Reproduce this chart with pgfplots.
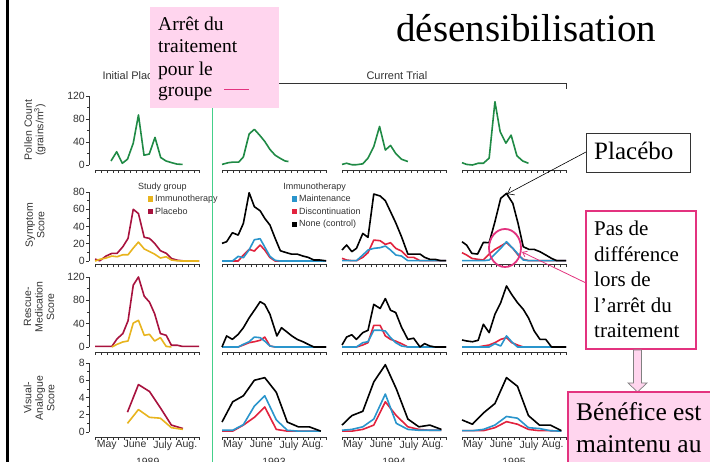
\documentclass[border=0pt]{standalone}
\usepackage{pgfplots}
\pgfplotsset{compat=1.18}
\usepackage{fontspec}
\setmainfont{Liberation Serif}
\setsansfont{Liberation Sans}
\usetikzlibrary{arrows.meta}
\definecolor{pollen}{HTML}{1F8A45}
\definecolor{plac}{HTML}{A8123E}
\definecolor{immu}{HTML}{E8B41E}
\definecolor{maint}{HTML}{2A95CC}
\definecolor{disc}{HTML}{E2233E}
\definecolor{pinkfill}{HTML}{FFD5EE}
\definecolor{magenta2}{HTML}{E3337F}
\definecolor{vgreen}{HTML}{44D08A}
\definecolor{figtext}{HTML}{333333}
\pgfplotsset{
  panel/.style={scale only axis, width=104pt, xmin=0, xmax=18, clip=false,
    axis x line*=bottom,
    xtick={0,...,18}, xticklabels={},
    tick align=outside, major tick length=3pt, minor tick length=2pt,
    tick style={figtext, line width=0.7pt},
    axis line style={figtext, line width=0.7pt},
    tick label style={font=\sffamily\fontsize{10.5}{11}\selectfont, text=figtext},
    /pgf/number format/assume math mode=true,
    every axis plot/.append style={line width=1.6pt, line join=round},
  },
  firstcol/.style={axis y line*=left, axis y line shift=6.7pt, yticklabel style={inner sep=1pt}},
  othercol/.style={axis y line=none, ytick=\empty, minor ytick=\empty},
  row1/.style={ymin=-8.7, ymax=120, height=74pt, ytick={0,40,80,120}, minor ytick={20,60,100}, y axis line style={shorten <=5pt}},
  row2/.style={ymin=-4, ymax=80, height=72.45pt, ytick={0,20,40,60,80}, minor ytick={10,30,50,70}, y axis line style={shorten <=3.5pt}},
  row3/.style={ymin=-8.6, ymax=120, height=75pt, ytick={0,40,80,120}, minor ytick={20,60,100}, y axis line style={shorten <=5pt}},
  row4/.style={ymin=-0.58, ymax=8, height=74pt, ytick={0,2,4,6,8}, minor ytick={1,3,5,7}, y axis line style={shorten <=5pt},
    extra x ticks={1.9,6.8,11.6,15.7}, extra x tick labels={May,June,July,Aug.},
    extra x tick style={major tick length=0pt, tick label style={font=\sffamily\fontsize{10.5}{11}\selectfont}}},
  leg/.style={legend style={draw=none, fill=none, anchor=north west,
      font=\sffamily\fontsize{9}{9}\selectfont, text=figtext, inner sep=0pt, row sep=0.6pt,
      /tikz/every even column/.append style={column sep=2pt}},
    legend cell align=left,
    legend image code/.code={\fill[##1, draw=none] (0pt,-2.6pt) rectangle (5.2pt,2.6pt);}},
}
\begin{document}
\begin{tikzpicture}[x=1pt,y=1pt]
\path[use as bounding box] (0,0) rectangle (710,462);
\clip (0,0) rectangle (710,462);
\fill[white] (0,0) rectangle (710,462);

% ---------- Row 1: pollen ----------
\begin{axis}[panel, firstcol, row1, at={(95.7pt,292pt)}, anchor=south west]
\addplot[color=pollen] coordinates {(2.65,7)(3.63,23)(4.6,3)(5.5,10)(6.5,38)(7.4,87)(8.36,17)(9.27,19)(10.26,48)(11.25,13)(12.16,7)(13.15,4)(14.1,1.5)(15.05,1)};
\end{axis}
\begin{axis}[panel, row1, othercol, at={(222pt,292pt)}, anchor=south west]
\addplot[color=pollen] coordinates {(0,1)(1.1,4)(1.9,5)(2.9,5)(3.7,14)(4.7,54)(5.6,62)(6.5,52)(7.4,41)(8.3,27)(9.2,17)(10,12)(10.9,7)(11.5,6)};
\end{axis}
\begin{axis}[panel, row1, othercol, at={(342pt,292pt)}, anchor=south west]
\addplot[color=pollen] coordinates {(0,1)(0.8,3)(1.7,0.5)(2.5,0.5)(3.6,2)(4.5,12)(5.5,32)(6.5,67)(7.5,26)(8.4,34)(9.3,20)(10.3,10)(11.4,6)};
\end{axis}
\begin{axis}[panel, row1, othercol, at={(462pt,292pt)}, anchor=south west]
\addplot[color=pollen] coordinates {(0,4)(0.8,1)(1.8,0)(2.8,3)(3.7,3)(4.7,12)(5.7,110)(6.6,58)(7.6,38)(8.5,52)(9.5,16)(10.5,7)(11.5,3)};
\end{axis}

% ---------- Row 2: symptom score ----------
\begin{axis}[panel, firstcol, row2, leg, legend style={at={(0.5,0.99)}}, at={(95.7pt,197.5pt)}, anchor=south west]
\addlegendimage{color=immu}\addlegendentry{Immunotherapy}
\addlegendimage{color=plac}\addlegendentry{Placebo}
\addplot[color=plac, forget plot] coordinates {(-0.1,2.3)(0.7,0.3)(1.8,5.8)(2.8,8.9)(3.7,8.9)(4.7,16.6)(5.6,26.3)(6.5,60)(7.4,55)(8.4,27.5)(9.3,26.3)(10.2,20.5)(11.2,12)(12.2,9)(13.1,3)(14.1,1)(15,0.3)(16,0)(17,0)(17.9,0)};
\addplot[color=immu, forget plot] coordinates {(-0.1,0)(0.7,2)(1.8,3.5)(2.8,5.8)(3.7,5)(4.7,7.3)(5.6,7.3)(6.5,15)(7.4,22)(8.4,14)(9.3,11)(10.2,8)(11.2,3.5)(12.2,5)(13.1,1.2)(14.1,0.3)(15,0)(16,0)(17,0)(17.9,0)};
\node[anchor=west, font=\sffamily\fontsize{9}{9}\selectfont, text=figtext, inner sep=0pt] at (rel axis cs:0.407,1.07) {Study group};
\end{axis}
\begin{axis}[panel, row2, othercol, leg, legend style={at={(0.67,0.99)}}, at={(222pt,197.5pt)}, anchor=south west]
\addlegendimage{color=maint}\addlegendentry{Maintenance}
\addlegendimage{color=disc}\addlegendentry{Discontinuation}
\addlegendimage{color=black}\addlegendentry{None (control)}
\addplot[color=disc, forget plot] coordinates {(0,0)(0.8,0)(1.8,0)(2.8,0)(3.7,7)(4.7,13.5)(5.6,11.6)(6.6,18.5)(7.4,12.7)(8.3,4)(9.2,0)(10.1,0)(11.2,0)(12,0)(13,0)(14,0)(14.9,0)(15.9,0)(16.9,0)(18,0)};
\addplot[color=maint, forget plot] coordinates {(0,0)(0.8,0)(1.8,0)(2.8,5.4)(3.7,3.9)(4.7,13.1)(5.6,24.7)(6.6,25.9)(7.4,16.2)(8.3,5.4)(9.2,0.8)(10.1,0)(11.2,0)(12,0)(13,0)(14,0)(14.9,0)(15.9,0)(16.9,0)(18,0)};
\addplot[color=black, forget plot] coordinates {(0,20.5)(0.8,22.4)(1.8,32.8)(2.8,30.1)(3.7,43.7)(4.7,79.2)(5.6,63)(6.6,58.3)(7.4,49.5)(8.3,41.7)(9.2,26.3)(10.1,11.9)(11.2,9.6)(12,8.1)(13,8.1)(14,5.8)(14.9,4.3)(15.9,1.2)(16.9,1.2)(18,0.3)};
\node[anchor=west, font=\sffamily\fontsize{9}{9}\selectfont, text=figtext, inner sep=0pt] at (rel axis cs:0.587,1.07) {Immunotherapy};
\end{axis}
\begin{axis}[panel, row2, othercol, at={(342pt,197.5pt)}, anchor=south west]
\addplot[color=disc] coordinates {(0,3.1)(0.8,1.2)(1.7,0.4)(2.5,0.4)(3.6,4.3)(4.5,9.7)(5.5,24.3)(6.6,23.6)(7.5,19.3)(8.4,21.3)(9.3,14.7)(10.3,11.6)(11.4,4.3)(12.4,4.3)(13.5,0.4)(14.3,0.4)(15.2,0.4)(16.1,0.4)(17.1,0.4)(18,0.4)};
\addplot[color=maint] coordinates {(0,0.4)(0.8,0.4)(1.7,0.4)(2.5,0.4)(3.6,7)(4.5,12.8)(5.5,14.7)(6.6,15.5)(7.5,17.4)(8.4,12.8)(9.3,7)(10.3,5.8)(11.4,0.4)(12.4,0.4)(13.5,0.4)(14.3,0.4)(15.2,0.4)(16.1,0.4)(17.1,0.4)(18,0.4)};
\addplot[color=black] coordinates {(0,12.8)(0.8,18.6)(1.7,10.9)(2.5,14.7)(3.6,32)(4.5,27.5)(5.5,77.7)(6.6,75.4)(7.5,70)(8.4,57.2)(9.3,44.4)(10.3,28.2)(11.4,8.1)(12.4,8.1)(13.5,8.1)(14.3,4.3)(15.2,2)(16.1,2)(17.1,0.4)(18,0.4)};
\end{axis}
\begin{axis}[panel, row2, othercol, at={(462pt,197.5pt)}, anchor=south west]
\addplot[color=disc] coordinates {(0,9.7)(0.8,7)(1.7,3.1)(2.7,2)(3.7,1.2)(4.7,8.1)(5.7,13.5)(6.7,17.4)(7.7,21.3)(8.8,14.7)(9.7,7)(10.6,2)(11.6,0.4)(12.5,0.4)(13.5,0.4)(14.5,0.4)(15.5,0.4)(16.4,0.4)(17.4,0.4)(18,0.4)};
\addplot[color=maint] coordinates {(0,0.4)(0.8,0.4)(1.7,0.4)(2.7,0.4)(3.7,0.4)(4.7,1.2)(5.7,8.1)(6.7,14.7)(7.7,22.4)(8.8,14.7)(9.7,8.1)(10.6,1.2)(11.6,0.4)(12.5,0.4)(13.5,0.4)(14.5,0.4)(15.5,0.4)(16.4,0.4)(17.4,0.4)(18,0.4)};
\addplot[color=black] coordinates {(0,22.4)(0.8,18.5)(1.7,8.9)(2.7,8.1)(3.7,21.6)(4.7,21.3)(5.7,45.6)(6.7,72.7)(7.7,78.4)(8.8,66.8)(9.7,43.7)(10.6,16.6)(11.6,13.5)(12.5,13.5)(13.5,10.8)(14.5,7)(15.5,3.1)(16.4,0.4)(17.4,0.4)(18,0.4)};
\end{axis}

% ---------- Row 3: rescue medication ----------
\begin{axis}[panel, firstcol, row3, at={(95.7pt,110pt)}, anchor=south west]
\addplot[color=plac] coordinates {(-0.1,1)(0.7,1)(1.8,1)(2.8,1)(3.7,14)(4.7,23)(5.6,45)(6.5,106)(7.4,120)(8.4,87)(9.3,77)(10.2,57)(11.2,23)(12.2,20)(13.1,3)(14.1,3)(15,1)(16,1)(17,1)(17.9,1)};
\addplot[color=immu] coordinates {(2.8,0)(3.7,4.6)(4.7,8.6)(5.6,10.3)(6.5,41)(7.4,45.7)(8.4,20)(9.3,21.7)(10.2,10.3)(11.2,16)(12.2,1)(13.1,0)};
\end{axis}
\begin{axis}[panel, row3, othercol, at={(222pt,110pt)}, anchor=south west]
\addplot[color=disc] coordinates {(0,0)(0.8,0)(1.8,0)(2.8,0)(3.7,3.4)(4.7,7.4)(5.6,9)(6.6,11.4)(7.4,17)(8.3,1.7)(9.2,0)(10.1,0)(11.2,0)(12,0)(13,0)(14,0)(14.9,0)(15.9,0)(16.9,0)(18,0)};
\addplot[color=maint] coordinates {(0,0)(0.8,0)(1.8,0)(2.8,0)(3.7,4.6)(4.7,9)(5.6,17)(6.6,16)(7.4,10)(8.3,1.7)(9.2,0)(10.1,0)(11.2,0)(12,0)(13,0)(14,0)(14.9,0)(15.9,0)(16.9,0)(18,0)};
\addplot[color=black] coordinates {(0,0)(0.8,18.9)(1.8,13.1)(2.8,21.7)(3.7,33)(4.7,50)(5.6,62.9)(6.6,77.7)(7.4,73)(8.3,56)(9.5,18.9)(10.3,33)(11.2,26)(12.1,18.9)(13,13.1)(14.1,8.6)(14.9,4.6)(15.9,0)(16.9,0)(18,0)};
\end{axis}
\begin{axis}[panel, row3, othercol, at={(342pt,110pt)}, anchor=south west]
\addplot[color=disc] coordinates {(0,0)(0.8,0)(1.7,0)(2.5,0)(3.6,3.4)(4.5,7.4)(5.5,37)(6.6,37)(7.5,19)(8.4,13)(9.3,10)(10.3,5.7)(11.4,0)(12.4,0)(13.5,0)(14.3,0)(15.2,0)(16.1,0)(17.1,0)(18,0)};
\addplot[color=maint] coordinates {(0,0)(0.8,0)(1.7,0)(2.5,0)(3.6,7.4)(4.5,9)(5.5,28.6)(6.6,28.6)(7.5,27.4)(8.4,16)(9.3,7.4)(10.3,1.7)(11.4,0)(12.4,0)(13.5,0)(14.3,0)(15.2,0)(16.1,0)(17.1,0)(18,0)};
\addplot[color=black] coordinates {(0,3.4)(0.8,17)(1.7,21)(2.5,13)(3.6,24.6)(4.5,28.6)(5.5,73)(6.6,66)(7.5,83)(8.4,63)(9.3,59)(10.3,34)(11.4,13)(12.4,15)(13.5,0)(14.3,5.7)(15.2,1.7)(16.1,0)(17.1,0)(18,0)};
\end{axis}
\begin{axis}[panel, row3, othercol, at={(462pt,110pt)}, anchor=south west]
\addplot[color=disc] coordinates {(0,0)(0.8,0)(1.8,0)(2.8,0)(3.7,1.7)(4.7,3.4)(5.7,7.4)(6.7,13)(7.7,16)(8.6,7.4)(9.6,3.4)(10.6,0)(11.5,0)(12.5,0)(13.5,0)(14.5,0)(15.5,0)(16.4,0)(17.3,0)(18,0)};
\addplot[color=maint] coordinates {(0,0)(0.8,0)(1.8,0)(2.8,0)(3.7,0)(4.7,0)(5.7,5.7)(6.7,1.7)(7.7,19)(8.6,9)(9.6,0)(10.6,0)(11.5,0)(12.5,0)(13.5,0)(14.5,0)(15.5,0)(16.4,0)(17.3,0)(18,0)};
\addplot[color=black] coordinates {(0,12)(0.8,10.3)(1.8,9)(2.8,11.4)(3.7,38.9)(4.7,24.6)(5.7,56)(6.7,76)(7.7,104.6)(8.6,90)(9.6,76)(10.6,64.6)(11.5,50)(12.5,27.4)(13.5,13)(14.5,13)(15.5,0)(16.4,0)(17.3,0)(18,0)};
\end{axis}

% ---------- Row 4: visual analogue ----------
\begin{axis}[panel, firstcol, row4, at={(95.7pt,25pt)}, anchor=south west]
\addplot[color=plac] coordinates {(5.5,2.3)(7.4,5.5)(9.3,4.7)(11.2,2.8)(13.1,0.8)(15.1,0.4)};
\addplot[color=immu] coordinates {(5.5,1.0)(7.4,2.6)(9.3,1.7)(11.2,1.6)(13.1,0.5)(15.1,0.3)};
\end{axis}
\begin{axis}[panel, row4, othercol, at={(222pt,25pt)}, anchor=south west]
\addplot[color=disc] coordinates {(0,0.1)(1.85,0.1)(3.7,0.8)(5.6,1.7)(7.4,2.9)(9.4,0.3)(11.3,0.1)(13.2,0.1)(15.1,0.1)(17.1,0.1)};
\addplot[color=maint] coordinates {(0,0.2)(1.85,0.2)(3.7,0.85)(5.6,3.0)(7.4,4.2)(9.4,1.4)(11.3,0.2)(13.2,0.1)(15.1,0.1)(17.1,0.1)};
\addplot[color=black] coordinates {(0,1.15)(1.85,3.5)(3.7,4.2)(5.6,6.0)(7.4,6.3)(9.4,4.6)(11.3,1.15)(13.2,0.6)(15.1,0.6)(17.1,0.1)};
\end{axis}
\begin{axis}[panel, row4, othercol, at={(342pt,25pt)}, anchor=south west]
\addplot[color=disc] coordinates {(0,0.1)(1.7,0.1)(3.6,0.3)(5.5,0.8)(7.5,3.5)(9.4,1.9)(11.4,0.6)(13.3,0.3)(15.2,0.2)(17.2,0.2)};
\addplot[color=maint] coordinates {(0,0.2)(1.7,0.3)(3.6,0.6)(5.5,1.5)(7.5,4.4)(9.4,1.0)(11.4,0.3)(13.3,0.2)(15.2,0.2)(17.2,0.2)};
\addplot[color=black] coordinates {(0,0.8)(1.7,1.9)(3.6,2.4)(5.5,5.8)(7.5,7.8)(9.4,5.0)(11.4,1.5)(13.3,0.6)(15.2,0.8)(17.2,0.3)};
\end{axis}
\begin{axis}[panel, row4, othercol, at={(462pt,25pt)}, anchor=south west]
\addplot[color=disc] coordinates {(0,0.15)(1.8,0.15)(3.7,0.15)(5.7,0.5)(7.7,1.2)(9.6,0.9)(11.5,0.3)(13.4,0.15)(15.3,0.15)(17.2,0.1)};
\addplot[color=maint] coordinates {(0,0.15)(1.8,0.15)(3.7,0.3)(5.7,0.8)(7.7,1.8)(9.6,1.6)(11.5,0.5)(13.4,0.4)(15.3,0.15)(17.2,0.1)};
\addplot[color=black] coordinates {(0,1.4)(1.8,0.9)(3.7,2.2)(5.7,3.3)(7.7,6.3)(9.6,5.3)(11.5,1.9)(13.4,0.8)(15.3,0.8)(17.2,0.15)};
\end{axis}

% ---------- figure texts ----------
\begin{scope}[font=\sffamily, text=figtext]
\node[rotate=90, align=center, font=\sffamily\fontsize{10.5}{11.5}\selectfont] at (35,332) {Pollen Count\\(grains/m\textsuperscript{3})};
\node[rotate=90, align=center, font=\sffamily\fontsize{10.5}{11.5}\selectfont] at (35,237) {Symptom\\Score};
\node[rotate=90, align=center, font=\sffamily\fontsize{10.5}{11.5}\selectfont] at (39,155) {Rescue-\\Medication\\Score};
\node[rotate=90, align=center, font=\sffamily\fontsize{10.5}{11.5}\selectfont] at (39,64) {Visual-\\Analogue\\Score};
\node[anchor=west, font=\sffamily\fontsize{11}{12}\selectfont] at (99,386) {Initial Placebo};
\node[anchor=west, font=\sffamily\fontsize{11}{12}\selectfont] at (363,386) {Current Trial};
\draw[figtext, line width=0.8pt] (222,379) -- (566,379) -- (566,373);
\foreach \yr/\xx in {1989/147.7, 1993/274, 1994/394, 1995/514}
  \node[font=\sffamily\fontsize{10.5}{11}\selectfont] at (\xx,0.5) {\yr};
\end{scope}

% ---------- slide decorations ----------
\fill[black] (6,0) rectangle (9.3,462);
\draw[vgreen, line width=1.2pt] (212.8,402) -- (212.8,0);
\fill[pinkfill] (150,455) rectangle (279,354);
\begin{scope}[font=\fontsize{19.5}{22}\selectfont]
\node[anchor=base west, inner sep=0pt] at (158,431) {Arrêt du};
\node[anchor=base west, inner sep=0pt] at (158,409) {traitement};
\node[anchor=base west, inner sep=0pt] at (158,386.5) {pour le};
\node[anchor=base west, inner sep=0pt] at (158,365) {groupe};
\end{scope}
\draw[magenta2, line width=1pt] (224,372) -- (249,372);
\node[anchor=base west, inner sep=0pt, font=\fontsize{39}{40}\selectfont] at (396,420) {désensibilisation};

\draw[figtext, line width=0.8pt, fill=white] (586,329) rectangle (690,290);
\node[anchor=base west, inner sep=0pt, font=\fontsize{25}{27}\selectfont] at (594,302) {Placébo};
\draw[-{Straight Barb[length=6pt,width=9pt]}, line width=0.6pt] (586,310) -- (507,268);

\draw[magenta2, line width=1.8pt] (505,214) ellipse (16 and 19);
\draw[magenta2, line width=0.8pt, {Straight Barb[length=4pt,width=6pt]}-] (522,210) -- (586,179);
\draw[magenta2, line width=1.5pt, fill=white] (586,251) rectangle (696,113);
\begin{scope}[font=\fontsize{21}{24}\selectfont]
\node[anchor=base west, inner sep=0pt] at (594,226) {Pas de};
\node[anchor=base west, inner sep=0pt] at (594,200) {différence};
\node[anchor=base west, inner sep=0pt] at (594,175) {lors de};
\node[anchor=base west, inner sep=0pt] at (594,149) {l’arrêt du};
\node[anchor=base west, inner sep=0pt] at (594,124) {traitement};
\end{scope}
\draw[gray, line width=0.7pt, fill=pinkfill] (633.5,112) -- (641.5,112) -- (641.5,79) -- (647,79) -- (637.5,70) -- (628,79) -- (633.5,79) -- cycle;
\draw[magenta2, line width=1.5pt, fill=pinkfill] (568,70) rectangle (716,-10);
\begin{scope}[font=\fontsize{25.5}{28}\selectfont]
\node[anchor=base west, inner sep=0pt] at (576,41) {Bénéfice est};
\node[anchor=base west, inner sep=0pt] at (576,9) {maintenu au};
\end{scope}
\end{tikzpicture}
\end{document}
